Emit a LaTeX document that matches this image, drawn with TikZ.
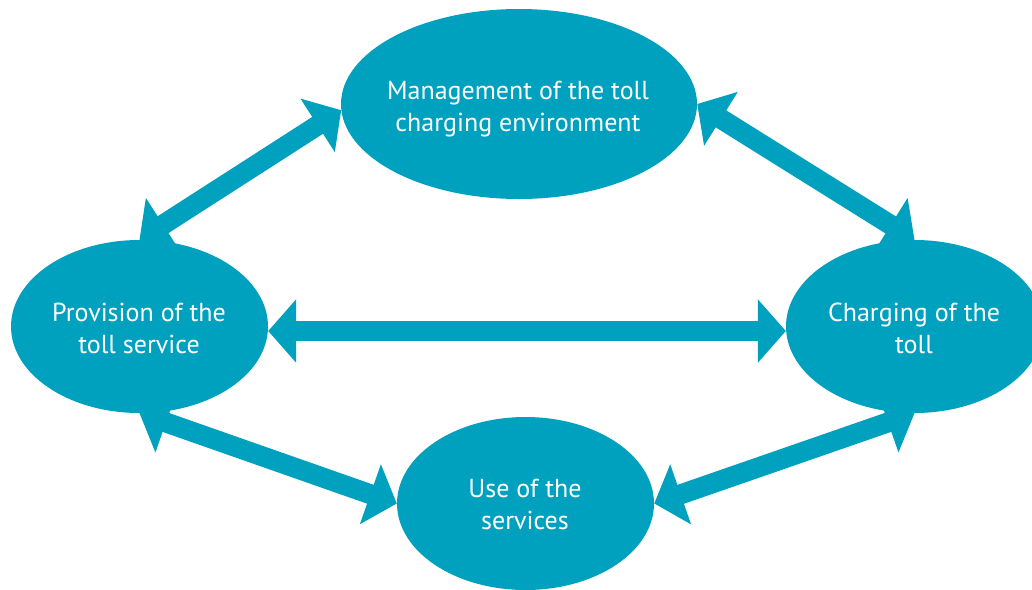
\documentclass[tikz,border=0pt]{standalone}
\usepackage{fontspec}
\setmainfont{PT Sans}
\usetikzlibrary{shapes.geometric,arrows.meta}
\definecolor{teal}{RGB}{0,161,190}
\tikzset{
  blob/.style={ellipse, fill=teal, draw=none, inner sep=0pt},
  lbl/.style={text=white, align=center, inner sep=0pt, anchor=base, font=\fontsize{26}{32}\selectfont},
  link/.style={teal, line width=20pt, {Triangle[length=28pt,width=62pt]}-{Triangle[length=28pt,width=62pt]}}
}
\begin{document}
\begin{tikzpicture}[x=1pt,y=-1pt]
\useasboundingbox (0,0) rectangle (1032,589);
\clip (0,0) rectangle (1032,589);
\node[blob, minimum width=356pt, minimum height=190pt] (top) at (519,104) {};
\node[blob, minimum width=257pt, minimum height=173pt] (left) at (139.5,326.5) {};
\node[blob, minimum width=257pt, minimum height=173pt] (right) at (914.5,326.5) {};
\node[blob, minimum width=257pt, minimum height=173pt] (bot) at (525.5,503.5) {};
\node[lbl] (topt) at (518,131) {Management of the toll\\charging environment};
\node[lbl] (leftt) at (139,353) {Provision of the\\toll service};
\node[lbl] (rightt) at (914,353) {Charging of the\\toll};
\node[lbl] (bott) at (525,529) {Use of the\\services};
\draw[link] (left.north) -- (top.182);
\draw[link] (top.east) -- (right.north);
\draw[link] ([yshift=-4.5pt]left.east) -- ([yshift=-4.5pt]right.west);
\draw[link] (left.south) -- (bot.west);
\draw[link] (bot.east) -- (right.south);
\end{tikzpicture}
\end{document}
